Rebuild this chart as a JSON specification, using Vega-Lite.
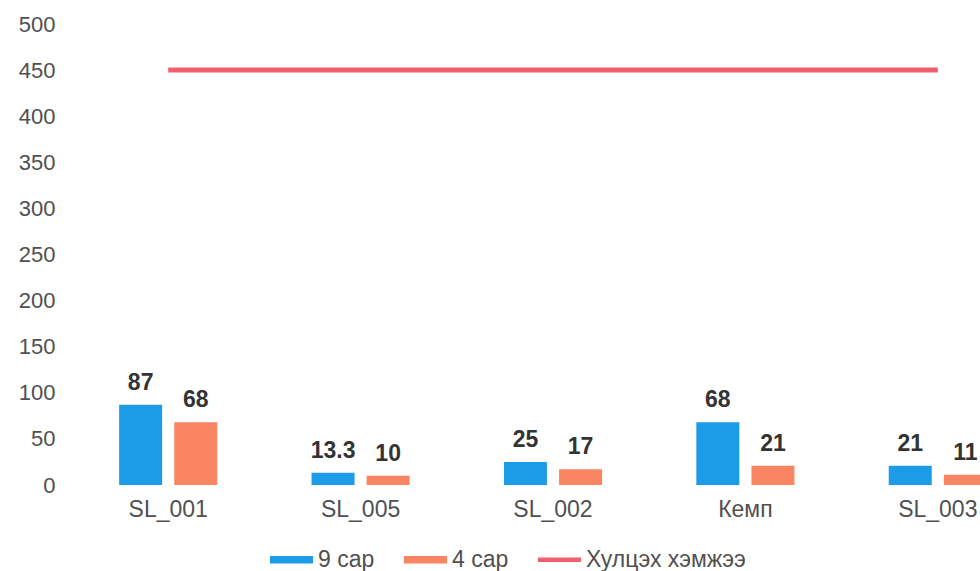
{
  "$schema": "https://vega.github.io/schema/vega-lite/v6.json",
  "width": 908,
  "height": 461,
  "autosize": {"type": "none"},
  "padding": {"left": 72, "top": 24, "right": 0, "bottom": 86},
  "background": "white",
  "config": {"view": {"stroke": null}, "font": "Liberation Sans"},
  "data": {
    "values": [
      {"category": "SL_001", "series": "9 сар", "value": 87},
      {"category": "SL_001", "series": "4 сар", "value": 68},
      {"category": "SL_005", "series": "9 сар", "value": 13.3},
      {"category": "SL_005", "series": "4 сар", "value": 10},
      {"category": "SL_002", "series": "9 сар", "value": 25},
      {"category": "SL_002", "series": "4 сар", "value": 17},
      {"category": "Кемп", "series": "9 сар", "value": 68},
      {"category": "Кемп", "series": "4 сар", "value": 21},
      {"category": "SL_003", "series": "9 сар", "value": 21},
      {"category": "SL_003", "series": "4 сар", "value": 11},
      {"category": "SL_001", "series": "Хулцэх хэмжээ", "value": 450},
      {"category": "SL_005", "series": "Хулцэх хэмжээ", "value": 450},
      {"category": "SL_002", "series": "Хулцэх хэмжээ", "value": 450},
      {"category": "Кемп", "series": "Хулцэх хэмжээ", "value": 450},
      {"category": "SL_003", "series": "Хулцэх хэмжээ", "value": 450}
    ]
  },
  "encoding": {
    "x": {
      "field": "category",
      "type": "nominal",
      "sort": ["SL_001", "SL_005", "SL_002", "Кемп", "SL_003"],
      "scale": {"range": [0, 962], "paddingInner": 0.49, "paddingOuter": 0.245},
      "axis": {
        "title": null,
        "labelAngle": 0,
        "domain": false,
        "ticks": false,
        "labelPadding": 13,
        "labelFontSize": 23,
        "labelColor": "#505050",
        "labelBaseline": "top"
      }
    }
  },
  "layer": [
    {
      "transform": [{"filter": "datum.series !== 'Хулцэх хэмжээ'"}],
      "mark": {"type": "bar"},
      "encoding": {
        "xOffset": {"field": "series", "type": "nominal", "sort": ["9 сар", "4 сар"], "scale": {"paddingInner": 0.22, "paddingOuter": 0}},
        "y": {
          "field": "value",
          "type": "quantitative",
          "scale": {"domain": [0, 500], "nice": false},
          "axis": {
            "title": null,
            "values": [0, 50, 100, 150, 200, 250, 300, 350, 400, 450, 500],
            "grid": false,
            "domain": false,
            "ticks": false,
            "labelPadding": 17,
            "labelFontSize": 22,
            "labelColor": "#505050"
          }
        },
        "color": {
          "field": "series",
          "type": "nominal",
          "scale": {"domain": ["9 сар", "4 сар", "Хулцэх хэмжээ"], "range": ["#1C9BE6", "#FA8562", "#F0606C"]},
          "legend": {
            "orient": "none",
            "legendX": 198,
            "legendY": 514,
            "direction": "horizontal",
            "title": null,
            "padding": 0,
            "symbolType": "M-1,-0.18H1V0.18H-1Z",
            "symbolSize": 1849,
            "symbolStrokeWidth": 0,
            "labelFontSize": 23,
            "labelColor": "#505050",
            "labelOffset": 5,
            "columnPadding": 29,
            "encode": {
              "symbols": {
                "update": {
                  "shape": {"signal": "datum.value === 'Хулцэх хэмжээ' ? 'M-1,-0.11H1V0.11H-1Z' : 'M-1,-0.18H1V0.18H-1Z'"},
                  "fill": {"scale": "color", "field": "value"},
                  "strokeWidth": {"value": 0},
                  "opacity": {"value": 1}
                }
              }
            }
          }
        }
      }
    },
    {
      "transform": [{"filter": "datum.series !== 'Хулцэх хэмжээ'"}],
      "mark": {"type": "text", "baseline": "bottom", "dy": -10, "fontSize": 23, "fontWeight": "bold", "color": "#333333"},
      "encoding": {
        "xOffset": {"field": "series", "type": "nominal", "sort": ["9 сар", "4 сар"]},
        "y": {"field": "value", "type": "quantitative"},
        "text": {"field": "value", "type": "quantitative"}
      }
    },
    {
      "transform": [{"filter": "datum.series === 'Хулцэх хэмжээ'"}],
      "mark": {"type": "line", "strokeWidth": 5},
      "encoding": {
        "y": {"field": "value", "type": "quantitative"},
        "color": {"field": "series", "type": "nominal"}
      }
    }
  ]
}
